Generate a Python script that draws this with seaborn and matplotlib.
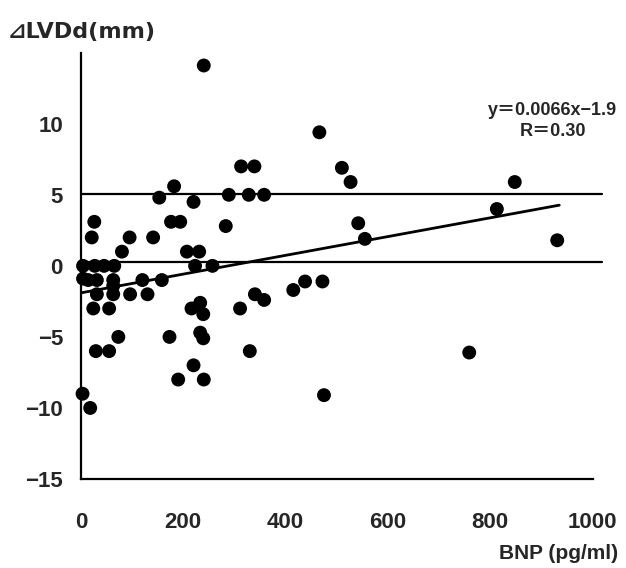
import numpy as np
import pandas as pd
import matplotlib
matplotlib.use('Agg')
import matplotlib.pyplot as plt
import seaborn as sns

# valores
bnp = [240, 313, 339, 182, 153, 220, 289, 328, 358, 26, 21, 176, 194, 283, 95, 141,
       80, 207, 231, 4, 27, 45, 65, 223, 257, 466, 510, 527, 542, 555, 848, 813, 931,
       4, 14, 31, 63, 63, 120, 158, 31, 63, 96, 130, 24, 55, 216, 233, 239, 311,
       340, 358, 415, 438, 472, 73, 173, 233, 239, 29, 55, 330, 220, 190, 240,
       3, 18, 475, 759]
dlvdd = [14.1, 7.0, 7.0, 5.6, 4.8, 4.5, 5.0, 5.0, 5.0, 3.1, 2.0, 3.1, 3.1, 2.8, 2.0, 2.0,
         1.0, 1.0, 1.0, 0.0, 0.0, 0.0, 0.0, 0.0, 0.0, 9.4, 6.9, 5.9, 3.0, 1.9, 5.9, 4.0, 1.8,
         -0.9, -1.0, -1.0, -1.0, -1.4, -1.0, -1.0, -2.0, -2.0, -2.0, -2.0, -3.0, -3.0, -3.0, -2.6, -3.4, -3.0,
         -2.0, -2.4, -1.7, -1.1, -1.1, -5.0, -5.0, -4.7, -5.1, -6.0, -6.0, -6.0, -7.0, -8.0, -8.0,
         -9.0, -10.0, -9.1, -6.1]

fit_slope = 0.0066
fit_intercept = -1.9
fit_x = [0, 935]
ref_levels = [5.05, 0.3]
ref_x = [0, 1018]

x_ticks = [0, 200, 400, 600, 800, 1000]
y_ticks = [-15, -10, -5, 0, 5, 10]
y_ticklabels = ['\u221215', '\u221210', '\u22125', '0', '5', '10']

df = pd.DataFrame({'BNP': bnp, 'dLVDd': dlvdd})
fit = pd.DataFrame({'x': fit_x})
fit['y'] = fit_slope * fit['x'] + fit_intercept

sns.set_style('white')
plt.rcParams['font.family'] = ['Liberation Sans', 'DejaVu Sans', 'Noto Sans CJK JP']

fig = plt.figure(figsize=(6.26, 5.68), dpi=100)
ax = fig.add_axes([0.1294, 0.1567, 0.8171, 0.7505])

for lvl in ref_levels:
    ax.plot(ref_x, [lvl, lvl], color='black', lw=1.6, clip_on=False, zorder=1)

sns.lineplot(data=fit, x='x', y='y', color='black', lw=2.0, ax=ax, zorder=2)
sns.scatterplot(data=df, x='BNP', y='dLVDd', color='black', s=100, edgecolor='none',
                ax=ax, zorder=3, clip_on=False)

ax.set_xlim(0, 1000)
ax.set_ylim(-15, 15)
ax.set_xticks(x_ticks)
ax.set_yticks(y_ticks)
ax.set_yticklabels(y_ticklabels)
ax.tick_params(axis='x', direction='in', length=6, width=1.2, pad=24, labelsize=16)
ax.tick_params(axis='y', direction='in', length=5, width=1.2, pad=13, labelsize=16)
for lab in ax.get_xticklabels() + ax.get_yticklabels():
    lab.set_fontweight('bold')

sns.despine(ax=ax)
for side in ['left', 'bottom']:
    ax.spines[side].set_linewidth(1.6)
    ax.spines[side].set_color('black')

ax.set_xlabel('')
ax.set_ylabel('')
fig.text(0.012, 0.944, '\u22bfLVDd(mm)', fontsize=16, fontweight='bold',
         va='center', ha='left', family=['DejaVu Sans', 'Noto Sans CJK JP'])
fig.text(0.988, 0.026, 'BNP (pg/ml)', fontsize=15, fontweight='bold',
         va='center', ha='right')
ax.text(922, 10.2, 'y\uff1d0.0066x\u22121.9\nR\uff1d0.30', fontsize=13, fontweight='bold',
        ha='center', va='center', linespacing=1.25,
        family=['Liberation Sans', 'Noto Sans CJK JP'])

fig.savefig('out.png', dpi=100)
